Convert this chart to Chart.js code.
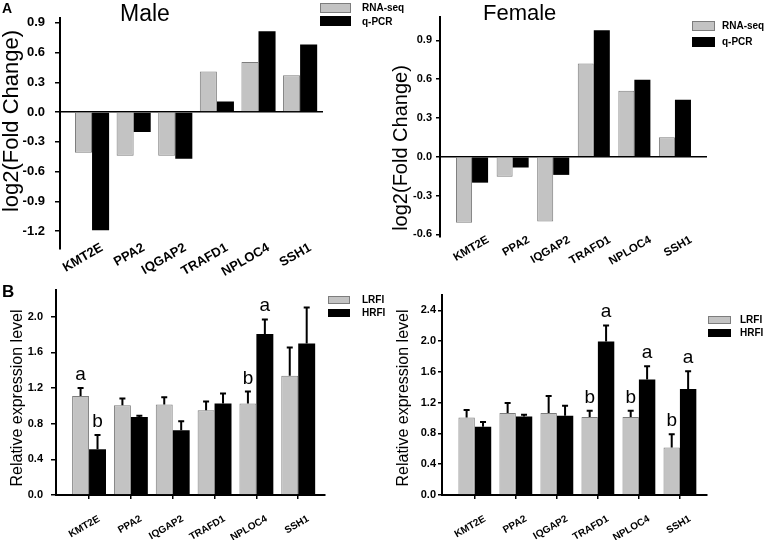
<!DOCTYPE html>
<html>
<head>
<meta charset="utf-8">
<script src="https://cdn.jsdelivr.net/npm/chart.js@4.4.1/dist/chart.umd.min.js"></script>
<style>
  body { margin: 0; background: #fff; width: 770px; height: 540px; position: relative; overflow: hidden;
         font-family: "Liberation Sans", Arial, sans-serif; color: #000; }
  canvas { position: absolute; }
  .t { position: absolute; white-space: nowrap; line-height: 1; }
  .rot { position: absolute; white-space: nowrap; line-height: 1; transform: translate(-50%, -50%) rotate(-90deg); }
  .sw { position: absolute; box-sizing: border-box; }
  .gray { background: #c3c3c3; border: 1px solid #7d7d7d; }
  .black { background: #000; }
  .leg { position: absolute; white-space: nowrap; line-height: 1; font-size: 10px; font-weight: bold; }
</style>
</head>
<body>
<canvas id="maleA" width="345" height="280" style="left:0;top:0"></canvas>
<canvas id="femaleA" width="345" height="280" style="left:385px;top:0"></canvas>
<canvas id="maleB" width="345" height="270" style="left:0;top:270px"></canvas>
<canvas id="femaleB" width="345" height="270" style="left:385px;top:270px"></canvas>

<div class="t" style="left:2px;top:1px;font-size:14px;font-weight:bold">A</div>
<div class="t" style="left:2px;top:283px;font-size:17px;font-weight:bold">B</div>
<div class="t" style="left:120px;top:2px;font-size:23px">Male</div>
<div class="t" style="left:483px;top:2px;font-size:22px">Female</div>

<div class="rot" style="left:11px;top:121px;font-size:22px">log2(Fold Change)</div>
<div class="rot" style="left:400px;top:148px;font-size:20px">log2(Fold Change)</div>
<div class="rot" style="left:17px;top:398px;font-size:16px">Relative expression level</div>
<div class="rot" style="left:403px;top:398px;font-size:16px">Relative expression level</div>

<div class="sw gray" style="left:320px;top:3px;width:31px;height:10px"></div>
<div class="sw black" style="left:320px;top:16px;width:31px;height:10px"></div>
<div class="leg" style="left:362px;top:3px">RNA-seq</div>
<div class="leg" style="left:362px;top:17px">q-PCR</div>

<div class="sw gray" style="left:692px;top:21px;width:23px;height:10px"></div>
<div class="sw black" style="left:692px;top:37px;width:23px;height:10px"></div>
<div class="leg" style="left:722px;top:21px">RNA-seq</div>
<div class="leg" style="left:722px;top:37px">q-PCR</div>

<div class="sw gray" style="left:328px;top:296px;width:22px;height:8px"></div>
<div class="sw black" style="left:328px;top:309px;width:22px;height:8px"></div>
<div class="leg" style="left:362px;top:295px">LRFI</div>
<div class="leg" style="left:362px;top:308px">HRFI</div>

<div class="sw gray" style="left:708px;top:316px;width:23px;height:8px"></div>
<div class="sw black" style="left:708px;top:329px;width:23px;height:8px"></div>
<div class="leg" style="left:740px;top:315px">LRFI</div>
<div class="leg" style="left:740px;top:328px">HRFI</div>

<script>
// genes on the x axis
const genes = ['KMT2E', 'PPA2', 'IQGAP2', 'TRAFD1', 'NPLOC4', 'SSH1'];

// A: log2 fold change, RNA-seq vs q-PCR
const maleRnaSeq = [-0.41, -0.44, -0.44, 0.41, 0.505, 0.37];
const maleQpcr = [-1.19, -0.20, -0.47, 0.106, 0.815, 0.68];
const femaleRnaSeq = [-0.51, -0.155, -0.50, 0.72, 0.51, 0.15];
const femaleQpcr = [-0.20, -0.083, -0.14, 0.977, 0.595, 0.44];

// B: relative expression, LRFI vs HRFI (mean and upper error)
const maleLrfi = [1.11, 1.007, 1.015, 0.951, 1.026, 1.337];
const maleLrfiErr = [0.09, 0.075, 0.082, 0.098, 0.135, 0.318];
const maleHrfi = [0.513, 0.876, 0.727, 1.026, 1.805, 1.70];
const maleHrfiErr = [0.161, 0.012, 0.101, 0.113, 0.165, 0.405];
const femaleLrfi = [1.009, 1.065, 1.065, 1.013, 1.013, 0.617];
const femaleLrfiErr = [0.095, 0.131, 0.222, 0.083, 0.083, 0.174];
const femaleHrfi = [0.887, 1.022, 1.030, 1.996, 1.50, 1.378];
const femaleHrfiErr = [0.061, 0.021, 0.131, 0.208, 0.174, 0.231];

// significance letters
const maleLrfiMarks = ['a', '', '', '', 'b', ''];
const maleHrfiMarks = ['b', '', '', '', 'a', ''];
const femaleLrfiMarks = ['', '', '', 'b', 'b', 'b'];
const femaleHrfiMarks = ['', '', '', 'a', 'a', 'a'];

// tick labels
const maleATicks = [-1.2, -0.9, -0.6, -0.3, 0, 0.3, 0.6, 0.9];
const femaleATicks = [-0.6, -0.3, 0, 0.3, 0.6, 0.9];
const maleBTicks = [0, 0.4, 0.8, 1.2, 1.6, 2.0];
const femaleBTicks = [0, 0.4, 0.8, 1.2, 1.6, 2.0, 2.4];

Chart.defaults.font.family = '"Liberation Sans", Arial, sans-serif';
Chart.defaults.color = '#000';

// error bars + letters drawn from the y scale
const errorBars = {
  id: 'errorBars',
  afterDatasetsDraw(chart) {
    const ctx = chart.ctx;
    const yScale = chart.scales.y;
    chart.data.datasets.forEach((ds, i) => {
      if (!ds.err) return;
      chart.getDatasetMeta(i).data.forEach((bar, j) => {
        const top = yScale.getPixelForValue(ds.data[j].y + ds.err[j]);
        ctx.save();
        ctx.strokeStyle = '#000';
        ctx.lineWidth = 2;
        ctx.beginPath();
        ctx.moveTo(bar.x, bar.y);
        ctx.lineTo(bar.x, top);
        ctx.moveTo(bar.x - 3, top);
        ctx.lineTo(bar.x + 3, top);
        ctx.stroke();
        if (ds.marks && ds.marks[j]) {
          ctx.fillStyle = '#000';
          ctx.font = '19px "Liberation Sans", Arial, sans-serif';
          ctx.textAlign = 'center';
          ctx.textBaseline = 'alphabetic';
          ctx.fillText(ds.marks[j], bar.x, top - 8);
        }
        ctx.restore();
      });
    });
  }
};

function makeChart(id, c) {
  const toPoints = arr => arr.map((v, i) => ({ x: i, y: v }));
  // in panel A the gene names sit partly beside the lower part of the y axis,
  // so the x scale box is raised a little (otherwise its labels get clipped)
  const lift = {
    id: 'lift',
    afterLayout(chart) { chart.scales.x.top -= (c.lift || 0); }
  };
  return new Chart(document.getElementById(id), {
    type: 'bar',
    data: {
      datasets: [
        { label: c.names[0], data: toPoints(c.series[0]), err: c.err && c.err[0], marks: c.marks && c.marks[0],
          backgroundColor: '#c3c3c3', borderColor: '#7d7d7d', borderWidth: 1 },
        { label: c.names[1], data: toPoints(c.series[1]), err: c.err && c.err[1], marks: c.marks && c.marks[1],
          backgroundColor: '#000', borderColor: '#000', borderWidth: 0 }
      ]
    },
    options: {
      responsive: false,
      animation: false,
      events: [],
      layout: { padding: c.pad },
      plugins: { legend: { display: false }, tooltip: { enabled: false } },
      datasets: { bar: { categoryPercentage: c.cat, barPercentage: 1 } },
      scales: {
        x: {
          type: 'linear', offset: false, min: c.xMin, max: c.xMax,
          afterBuildTicks: s => { s.ticks = genes.map((g, i) => ({ value: i })); },
          afterFit: s => { s.height = c.xH; },
          ticks: { callback: v => genes[v], autoSkip: false, minRotation: 30, maxRotation: 30,
                   padding: c.xPad, labelOffset: c.xShift, font: { size: c.xFont, weight: 'bold' } },
          grid: { display: c.xTicks, offset: false, drawOnChartArea: false, drawTicks: c.xTicks,
                  tickLength: 4, tickColor: '#000', lineWidth: 1.5 },
          border: { display: c.xTicks, color: '#000', width: 2 }
        },
        y: {
          min: c.yMin, max: c.yMax,
          afterBuildTicks: s => { s.ticks = c.ticks.map(v => ({ value: v })); },
          afterFit: s => { s.width = c.yW; },
          ticks: { callback: v => v.toFixed(1), padding: c.yPad, font: { size: c.yFont, weight: 'bold' } },
          grid: { color: ctx => (c.zero && ctx.tick && ctx.tick.value === 0) ? '#000' : 'rgba(0,0,0,0)',
                  lineWidth: 1.5, tickColor: '#000', tickLength: c.tickLen || 4 },
          border: { color: '#000', width: 2 }
        }
      }
    },
    plugins: [errorBars, lift]
  });
}

makeChart('maleA', {
  names: ['RNA-seq', 'q-PCR'], series: [maleRnaSeq, maleQpcr], ticks: maleATicks,
  yMin: -1.38, yMax: 0.95, xMin: -0.77, xMax: 5.55, cat: 0.82,
  pad: { left: 0, top: 14, right: 22, bottom: 0 }, yW: 60, xH: 31, xPad: 11, lift: 20, xShift: 10,
  xFont: 13, yFont: 13, yPad: 10, tickLen: 5, xTicks: false, zero: true
});

makeChart('femaleA', {
  names: ['RNA-seq', 'q-PCR'], series: [femaleRnaSeq, femaleQpcr], ticks: femaleATicks,
  yMin: -0.62, yMax: 1.08, xMin: -0.79, xMax: 5.79, cat: 0.79,
  pad: { left: 0, top: 17, right: 23, bottom: 0 }, yW: 55, xH: 43, xPad: 16, lift: 20, xShift: 16,
  xFont: 11.5, yFont: 11, yPad: 4, xTicks: false, zero: true
});

makeChart('maleB', {
  names: ['LRFI', 'HRFI'], series: [maleLrfi, maleHrfi], err: [maleLrfiErr, maleHrfiErr],
  marks: [maleLrfiMarks, maleHrfiMarks], ticks: maleBTicks,
  yMin: 0, yMax: 2.3, xMin: -0.79, xMax: 5.64, cat: 0.81,
  pad: { left: 0, top: 20, right: 20, bottom: 0 }, yW: 56, xH: 45, xPad: 14, xShift: 10,
  xFont: 10, yFont: 11, yPad: 8, tickLen: 5, xTicks: true, zero: false
});

makeChart('femaleB', {
  names: ['LRFI', 'HRFI'], series: [femaleLrfi, femaleHrfi], err: [femaleLrfiErr, femaleHrfiErr],
  marks: [femaleLrfiMarks, femaleHrfiMarks], ticks: femaleBTicks,
  yMin: 0, yMax: 2.6, xMin: -0.8, xMax: 5.66, cat: 0.8,
  pad: { left: 0, top: 25, right: 23, bottom: 0 }, yW: 57, xH: 45, xPad: 14, xShift: 10,
  xFont: 10, yFont: 11, yPad: 2, xTicks: true, zero: false
});
</script>
</body>
</html>
